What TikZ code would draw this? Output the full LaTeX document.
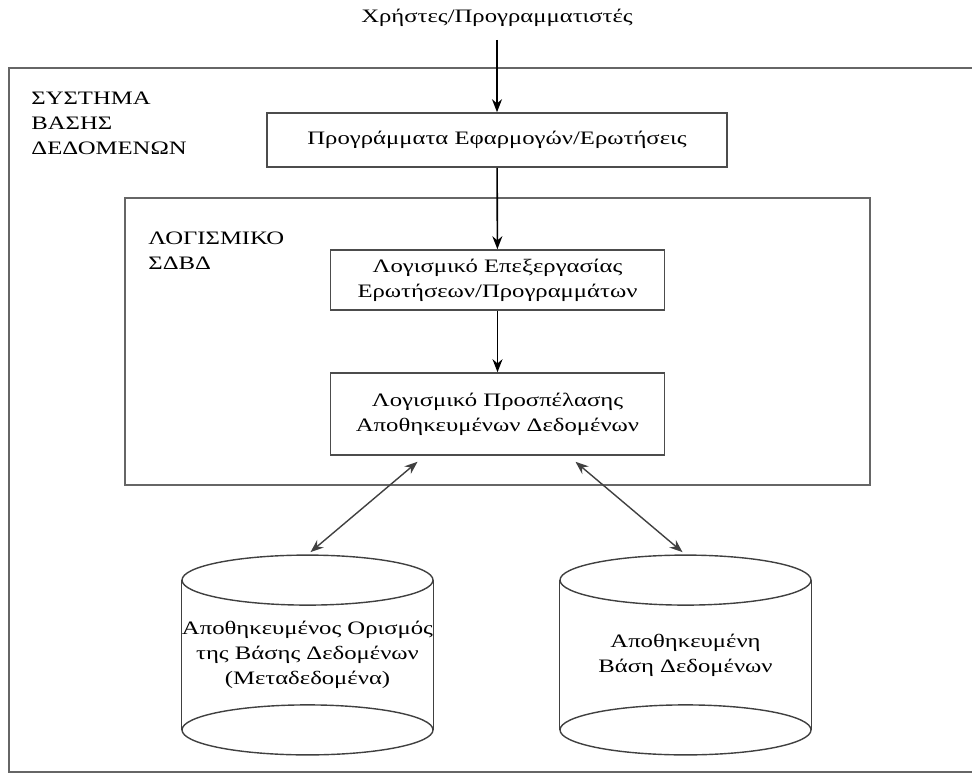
\documentclass[tikz,border=0pt]{standalone}
\usepackage{fontspec}
\setmainfont{Liberation Serif}[FakeStretch=1.3]
\usetikzlibrary{arrows.meta, positioning, calc}

\begin{document}
\begin{tikzpicture}[
    x=0.5pt, y=-0.5pt,
    every node/.style={font=\fontsize{9.5}{12.5}\selectfont},
    block/.style={rectangle, draw=black!70, line width=0.8pt, minimum width=167pt, align=center, inner sep=0pt},
    frame/.style={rectangle, draw=black!60, line width=1pt, inner sep=0pt},
    tag/.style={anchor=north west, align=left, inner sep=0pt},
    drum/.style={rectangle, inner sep=0pt, minimum width=125.5pt, minimum height=74.5pt, align=center},
    line/.style={draw=black!75, line width=0.7pt},
    flow/.style={draw=black, line width=0.8pt, -{Stealth[length=6.5pt, width=5pt]}},
    twoway/.style={line, {Stealth[length=6.5pt, width=5pt]}-{Stealth[length=6.5pt, width=5pt]}}
]
\useasboundingbox (0,0) rectangle (972,774);
\clip (0,0) rectangle (972,774);

\node (users) at (497,18) {Χρήστες/Προγραμματιστές};

\node[frame, minimum width=500pt, minimum height=352pt] (dbsys) at (509,420) {};
\node[tag] (dbsyslabel) at (31,92) {ΣΥΣΤΗΜΑ\\ΒΑΣΗΣ\\ΔΕΔΟΜΕΝΩΝ};

\node[frame, minimum width=372.5pt, minimum height=143.5pt] (dbms) at (497.5,341.5) {};
\node[tag] (dbmslabel) at (148,232) {ΛΟΓΙΣΜΙΚΟ\\ΣΔΒΔ};

\node[block, minimum width=230pt, minimum height=27pt] (app) at (497,140) {Προγράμματα Εφαρμογών/Ερωτήσεις};
\node[block, minimum height=30pt] (proc) at (497.5,280) {Λογισμικό Επεξεργασίας\\Ερωτήσεων/Προγραμμάτων};
\node[block, minimum height=41pt] (acc) at (497.5,414) {Λογισμικό Προσπέλασης\\Αποθηκευμένων Δεδομένων};

% the two stores
\node[drum] (meta) at (307.5,655) {Αποθηκευμένος Ορισμός\\της Βάσης Δεδομένων\\(Μεταδεδομένα)};
\node[drum] (data) at (685.5,655) {Αποθηκευμένη\\Βάση Δεδομένων};

\foreach \c in {meta,data} {
  \draw[line] (\c.north west) -- (\c.south west);
  \draw[line] (\c.north east) -- (\c.south east);
  \draw[line] (\c.north) ellipse [x radius=62.75pt, y radius=12.5pt];
  \draw[line] (\c.south) ellipse [x radius=62.75pt, y radius=12.5pt];
}

\coordinate (accleft) at ($(acc.south)+(-80,6)$);
\coordinate (accright) at ($(acc.south)+(78,6)$);
\coordinate (metatop) at ($(meta.north)+(3,-28)$);
\coordinate (datatop) at ($(data.north)+(-3,-28)$);

\draw[flow] ([yshift=-3pt]users.south) -- (app);
\draw[flow] (app) -- (proc);
\draw[flow] (proc) -- (acc);
\draw[twoway] (accleft) -- (metatop);
\draw[twoway] (accright) -- (datatop);
\end{tikzpicture}
\end{document}
